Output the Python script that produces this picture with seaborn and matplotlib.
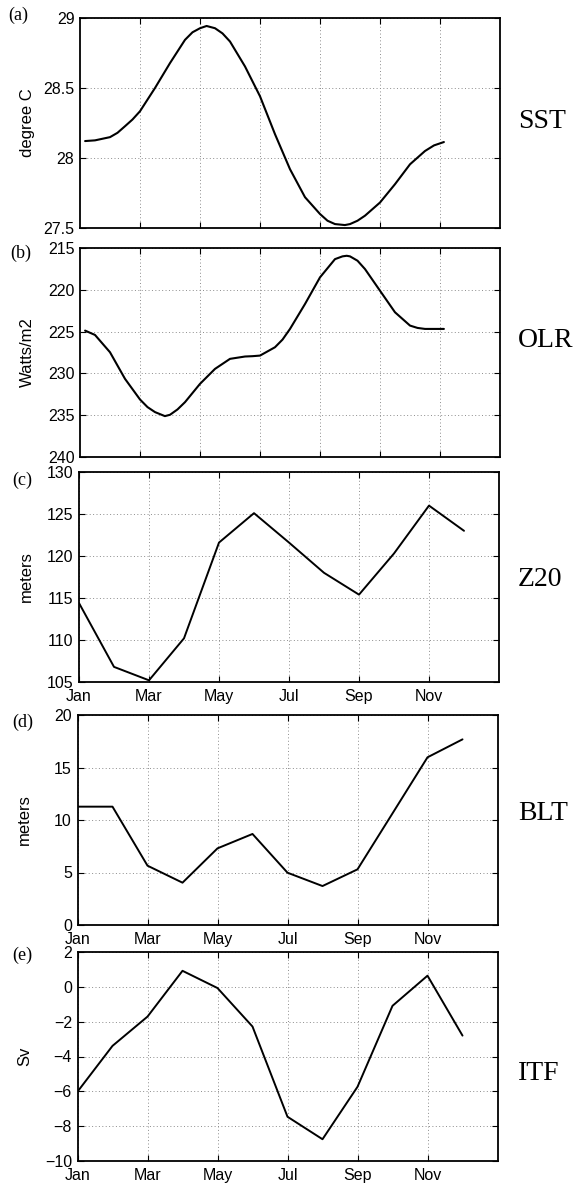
import matplotlib
matplotlib.use('Agg')
import pandas as pd
import matplotlib.pyplot as plt
import seaborn as sns

# SST and OLR: smooth seasonal curves (x in plot units, grid every 2)
sst_x = [0.17, 0.5, 1.0, 1.25, 1.5, 1.75, 2.0, 2.5, 3.0, 3.5, 3.75, 4.0, 4.22, 4.5, 4.75,
         5.0, 5.5, 6.0, 6.5, 7.0, 7.5, 8.0, 8.25, 8.5, 8.83, 9.0, 9.25, 9.5, 10.0, 10.5,
         11.0, 11.5, 11.8, 12.13]
sst_val = [28.121, 28.126, 28.149, 28.18, 28.227, 28.275, 28.334, 28.50, 28.678, 28.844,
           28.898, 28.927, 28.943, 28.927, 28.89, 28.832, 28.654, 28.441, 28.17, 27.92,
           27.72, 27.60, 27.552, 27.528, 27.521, 27.528, 27.552, 27.588, 27.682, 27.813,
           27.955, 28.05, 28.09, 28.114]

olr_x = [0.17, 0.5, 1.0, 1.5, 2.0, 2.25, 2.5, 2.83, 3.0, 3.25, 3.5, 4.0, 4.5, 5.0, 5.5,
         5.75, 6.0, 6.5, 6.75, 7.0, 7.5, 8.0, 8.5, 8.75, 8.89, 9.0, 9.25, 9.5, 10.0, 10.5,
         11.0, 11.25, 11.5, 12.13]
olr_val = [224.88, 225.40, 227.47, 230.65, 233.12, 234.03, 234.63, 235.11, 234.95, 234.31,
           233.44, 231.25, 229.46, 228.26, 227.98, 227.94, 227.87, 226.87, 225.96, 224.68,
           221.70, 218.51, 216.33, 216.0, 215.93, 216.0, 216.52, 217.52, 220.11, 222.69,
           224.28, 224.56, 224.68, 224.68]

# monthly series
months = list(range(1, 13))
month_ticks = [1, 3, 5, 7, 9, 11]
month_labels = ['Jan', 'Mar', 'May', 'Jul', 'Sep', 'Nov']
z20 = [114.4, 106.8, 105.2, 110.2, 121.6, 125.1, 121.6, 118.0, 115.4, 120.3, 126.0, 123.0]
blt = [11.27, 11.27, 5.65, 4.03, 7.30, 8.67, 4.98, 3.71, 5.30, 10.63, 15.97, 17.68]
itf = [-6.02, -3.39, -1.71, 0.92, -0.07, -2.28, -7.46, -8.75, -5.74, -1.09, 0.64, -2.80]

sns.set_theme(style='ticks')
plt.rcParams['font.family'] = ['Liberation Sans', 'DejaVu Sans']
plt.rcParams['axes.linewidth'] = 1.3
plt.rcParams['text.color'] = 'black'
plt.rcParams['axes.labelcolor'] = 'black'

W, H = 580, 1183
fig = plt.figure(figsize=(W / 100, H / 100), dpi=100)


def box(left, top, right, bottom):
    return [left / W, 1 - bottom / H, (right - left) / W, (bottom - top) / H]


def style(ax):
    ax.grid(True, color='0.55', linestyle=(0, (1, 2.5)), linewidth=0.7)
    ax.tick_params(direction='in', top=True, right=True, length=4, width=0.8,
                   labelsize=11.5, colors='black', pad=4)
    for s in ax.spines.values():
        s.set_color('black')
        s.set_linewidth(1.3)
    ax.set_xlabel('')
    ax.set_ylabel(ax.get_ylabel(), fontsize=12, color='black')
    ax.yaxis.set_label_coords(-0.108, 0.5)


# (a) SST
ax = fig.add_axes(box(80, 18, 500, 228))
sns.lineplot(data=pd.DataFrame({'x': sst_x, 'v': sst_val}), x='x', y='v', ax=ax,
             color='black', linewidth=1.5)
ax.set_xlim(0, 14)
ax.set_xticks([2, 4, 6, 8, 10, 12])
ax.set_xticklabels([])
ax.set_ylim(27.5, 29)
ax.set_yticks([27.5, 28, 28.5, 29])
ax.set_yticklabels(['27.5', '28', '28.5', '29'])
ax.set_ylabel('degree C')
style(ax)

# (b) OLR
ax = fig.add_axes(box(80, 248, 500, 457))
sns.lineplot(data=pd.DataFrame({'x': olr_x, 'v': olr_val}), x='x', y='v', ax=ax,
             color='black', linewidth=1.5)
ax.set_xlim(0, 14)
ax.set_xticks([2, 4, 6, 8, 10, 12])
ax.set_xticklabels([])
ax.set_ylim(240, 215)
ax.set_yticks([215, 220, 225, 230, 235, 240])
ax.set_ylabel('Watts/m2')
style(ax)

# (c)-(e) monthly panels
panels = [
    (z20, 'meters', (79, 472, 499, 682), (105, 130), [105, 110, 115, 120, 125, 130]),
    (blt, 'meters', (77.5, 715, 497.5, 925), (0, 20), [0, 5, 10, 15, 20]),
    (itf, 'Sv', (77.5, 952, 497.5, 1161), (-10, 2), [-10, -8, -6, -4, -2, 0, 2]),
]
for vals, ylab, bx, ylim, yticks in panels:
    ax = fig.add_axes(box(*bx))
    sns.lineplot(data=pd.DataFrame({'month': months, 'v': vals}), x='month', y='v',
                 ax=ax, color='black', linewidth=1.4)
    ax.set_xlim(1, 13)
    ax.set_xticks(month_ticks)
    ax.set_xticklabels(month_labels)
    ax.set_ylim(*ylim)
    ax.set_yticks(yticks)
    ax.set_ylabel(ylab)
    style(ax)
    ax.tick_params(axis='x', pad=5)

# panel letters and variable names
for txt, x, y in [('(a)', 8, 15), ('(b)', 10, 253), ('(c)', 12, 480),
                  ('(d)', 12, 722), ('(e)', 12, 955)]:
    fig.text(x / W, 1 - y / H, txt, family='Liberation Serif', fontsize=13,
             ha='left', va='center', color='black')
for txt, y in [('SST', 122), ('OLR', 340), ('Z20', 580), ('BLT', 813), ('ITF', 1073)]:
    fig.text(518 / W, 1 - y / H, txt, family='Liberation Serif', fontsize=20,
             ha='left', va='center', color='black')

fig.savefig('out.png', dpi=100)
